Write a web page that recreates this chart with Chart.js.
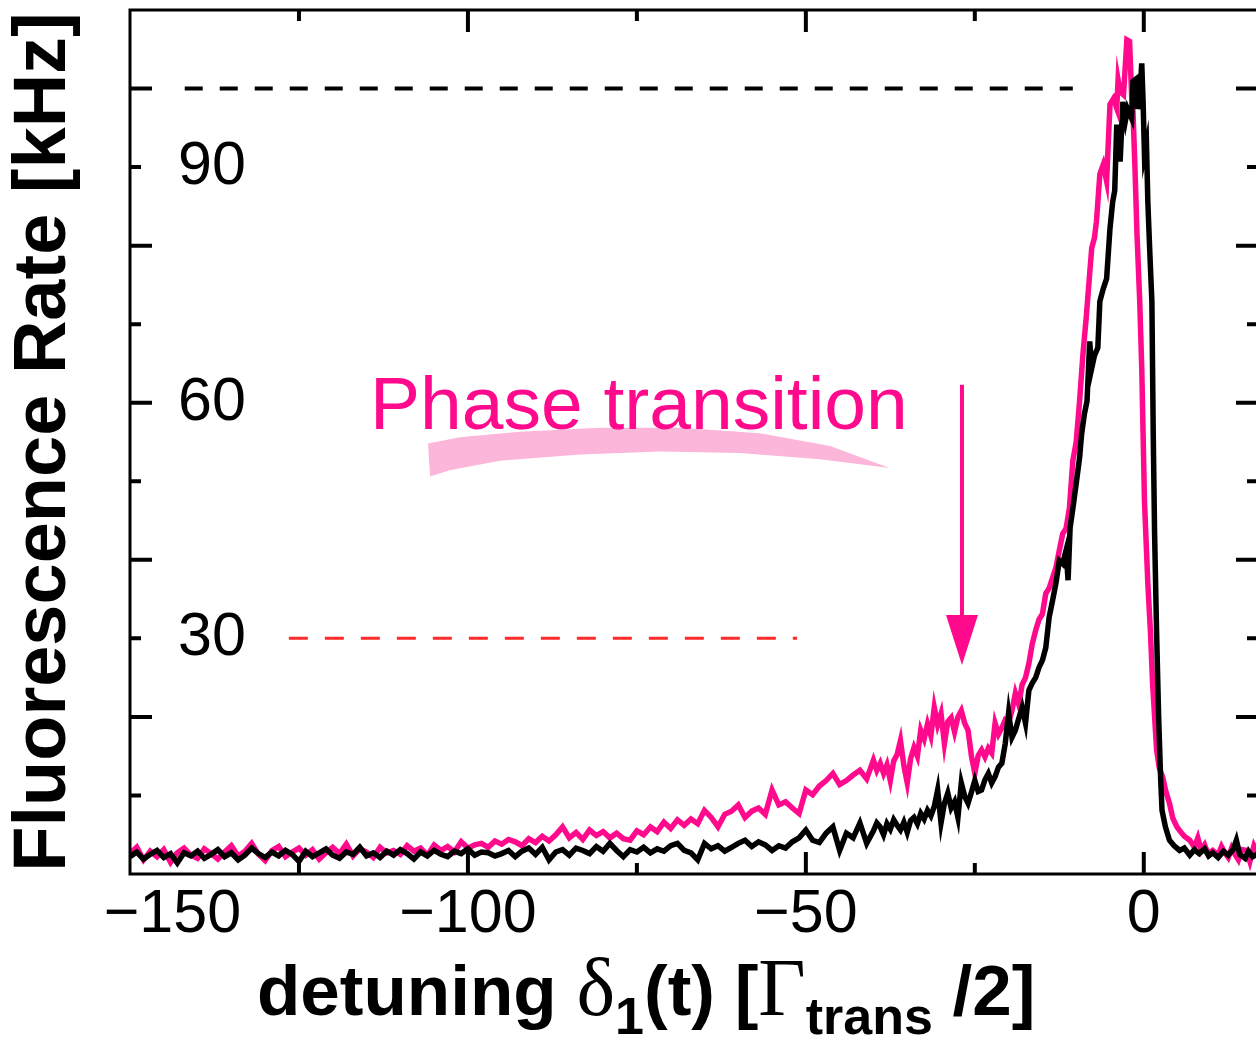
<!DOCTYPE html>
<html>
<head>
<meta charset="utf-8">
<title>Fluorescence rate vs detuning</title>
<script src="https://cdn.jsdelivr.net/npm/chart.js@4.4.1/dist/chart.umd.min.js"></script>
<style>
  html, body { margin: 0; padding: 0; background: #fff; overflow: hidden; }
  #wrap { position: absolute; left: 0; top: 0; width: 1262px; height: 1041px; }
  #xTitle {
    position: absolute; left: 257px; top: 948px;
    font: bold 71px 'Liberation Sans', Arial, sans-serif;
    line-height: 80px; white-space: nowrap; color: #000;
  }
  #xTitle .gr { font-family: 'Liberation Serif', 'DejaVu Serif', serif; font-weight: normal; font-size: 82px; }
  #xTitle .sb { font-size: 52px; position: relative; top: 19px; }
</style>
</head>
<body>
<div id="wrap"><canvas id="chart"></canvas></div>
<div id="xTitle">detuning <span class="gr">δ</span><span class="sb">1</span>(t) [<span class="gr">Γ</span><span class="sb">trans</span> /2]</div>
<script>
// data: [detuning, rate in kHz]
const pinkTrace = [
  [-150,2.6],[-149,3.4],[-148,1.8],[-147,2.9],[-146,2.2],[-145,3.1],[-144,1.5],[-143,2.7],[-142,3.3],[-141,2.4],
  [-140,2.0],[-139,3.2],[-138,2.6],[-137,1.9],[-136,2.8],[-135,3.6],[-134,2.3],[-133,2.9],[-132,3.9],[-131,2.5],
  [-130,1.7],[-129,3.0],[-128,3.5],[-127,2.2],[-126,2.8],[-125,3.3],[-124,2.4],[-123,3.1],[-122,1.9],[-121,2.7],
  [-120,3.4],[-119,2.6],[-118,3.8],[-117,2.3],[-116,3.2],[-115,2.8],[-114,2.1],[-113,3.4],[-112,2.7],[-111,3.0],
  [-110,2.5],[-109,3.6],[-108,2.9],[-107,3.3],[-106,2.4],[-105,3.7],[-104,3.0],[-103,3.5],[-102,2.8],[-101,4.1],
  [-100,3.3],[-99,3.7],[-98,3.9],[-97,3.4],[-96,4.2],[-95,3.8],[-94,4.4],[-93,4.1],[-92,3.6],[-91,4.5],
  [-90,4.0],[-89,4.8],[-88,4.2],[-87,5.0],[-86,6.0],[-85,4.6],[-84,5.3],[-83,4.4],[-82,5.6],[-81,4.9],
  [-80,5.4],[-79,4.6],[-78,5.2],[-77,4.5],[-76,4.3],[-75,5.5],[-74,5.0],[-73,6.0],[-72,5.4],[-71,6.6],
  [-70,5.8],[-69,6.9],[-68,6.2],[-67,7.0],[-66,6.4],[-65,8.1],[-64,7.2],[-63,6.0],[-62,7.6],[-61,8.0],
  [-60,8.8],[-59,7.2],[-58,8.0],[-57,8.4],[-56,7.6],[-55,10.7],[-54,8.8],[-53,9.2],[-52,8.4],[-51,7.7],
  [-50,10.7],[-49,10.1],[-48,11.2],[-47,11.9],[-46,12.8],[-45,11.4],[-44,11.9],[-43,12.6],[-42,13.2],[-41,12.1],
  [-40,14.5],[-39.5,13.2],[-39,14.1],[-38.5,12.8],[-38,13.9],[-37.5,11.9],[-37,14.4],[-36.5,15.2],[-36,17.0],[-35.5,13.8],
  [-35,11.6],[-34.5,14.7],[-34,16.1],[-33.5,15.0],[-33,18.3],[-32.5,17.2],[-32,19.1],[-31.5,17.6],[-31,21.2],[-30.5,19.0],
  [-30,20.4],[-29.5,16.6],[-29,19.4],[-28.5,19.9],[-28,18.1],[-27.5,20.0],[-27,20.8],[-26.5,19.2],[-26,18.3],[-25.5,15.0],
  [-25,12.8],[-24.5,15.1],[-24,15.8],[-23.5,14.9],[-23,16.0],[-22.5,15.4],[-22,19.2],[-21.5,17.8],[-21,18.6],[-20.5,19.6],
  [-20,19.3],[-19.5,20.8],[-19,23.0],[-18.5,21.6],[-18,24.1],[-17.5,25.0],[-17,26.8],[-16.5,29.3],[-16,31.0],[-15.5,32.4],
  [-15,33.1],[-14.5,35.7],[-14,36.4],[-13.5,37.7],[-13,39.0],[-12.5,41.2],[-12,43.3],[-11.5,44.0],[-11,46.6],[-10.5,52.6],
  [-10,55.0],[-9.5,60.2],[-9,66.2],[-8.5,71.0],[-8,76.5],[-7.7,79.7],[-7.3,81.0],[-7,83.1],[-6.5,89.1],[-6,90.3],
  [-5.5,88.2],[-5,98.0],[-4.5,98.7],[-4,97.5],[-3.8,101.1],[-3.5,99.6],[-3,99.2],[-2.5,106.2],[-2.1,106.0],[-1.8,99.2],
  [-1.6,97.1],[-1.3,89.8],[-1,81.4],[-0.6,72.9],[-0.3,64.4],[0.1,47.5],[0.6,37.0],[1.0,30.6],[1.3,24.3],[1.9,15.8],
  [2.3,13.5],[2.8,12.3],[3.3,10.4],[3.8,9.0],[4.3,7.1],[4.9,6.0],[5.5,5.3],[6.0,4.8],[6.8,4.3],[7.5,3.4],
  [8.0,4.6],[8.5,3.0],[9,3.7],[9.5,2.6],[10.2,3.0],[11,2.4],[11.5,3.5],[12,2.7],[12.5,2.1],[13,3.3],
  [13.5,2.5],[14,1.8],[14.5,3.1],[15.2,3.0],[15.7,1.6],[16.3,3.6],[17,2.4]
];

const blackTrace = [
  [-150,2.2],[-149,2.8],[-148,1.9],[-147,2.5],[-146,3.0],[-145,2.1],[-144,2.6],[-143,1.4],[-142,2.7],[-141,2.3],
  [-140,2.9],[-139,2.0],[-138,2.5],[-137,3.1],[-136,2.2],[-135,2.7],[-134,1.8],[-133,2.4],[-132,3.3],[-131,2.6],
  [-130,2.1],[-129,2.8],[-128,2.3],[-127,3.0],[-126,2.5],[-125,1.6],[-124,2.9],[-123,2.2],[-122,2.7],[-121,3.2],
  [-120,2.4],[-119,2.0],[-118,2.8],[-117,2.5],[-116,3.4],[-115,2.3],[-114,2.7],[-113,2.1],[-112,2.9],[-111,2.4],
  [-110,3.1],[-109,2.6],[-108,1.9],[-107,2.8],[-106,2.3],[-105,3.0],[-104,2.5],[-103,2.2],[-102,2.9],[-101,2.6],
  [-100,3.2],[-99,2.4],[-98,2.8],[-97,2.7],[-96,2.3],[-95,2.6],[-94,3.0],[-93,2.2],[-92,2.9],[-91,3.3],
  [-90,2.5],[-89,3.4],[-88,1.8],[-87,2.8],[-86,3.1],[-85,2.4],[-84,3.3],[-83,3.0],[-82,2.6],[-81,3.5],
  [-80,2.9],[-79,3.9],[-78,3.0],[-77,2.2],[-76,3.1],[-75,2.8],[-74,3.4],[-73,2.7],[-72,3.2],[-71,2.9],
  [-70,3.6],[-69,3.9],[-68,3.0],[-67,2.7],[-66,1.8],[-65,3.9],[-64,3.2],[-63,3.6],[-62,2.9],[-61,3.4],
  [-60,3.9],[-59,4.3],[-58,3.5],[-57,4.1],[-56,3.7],[-55,3.0],[-54,3.6],[-53,3.3],[-52,4.1],[-51,4.6],
  [-50,5.6],[-49,4.3],[-48,4.0],[-47,5.2],[-46,6.0],[-45,3.0],[-44,5.2],[-43,4.6],[-42,6.5],[-41,3.9],
  [-40,5.5],[-39.5,6.5],[-39,6.0],[-38.5,5.0],[-38,6.4],[-37.5,5.7],[-37,6.9],[-36.5,6.2],[-36,5.6],[-35.5,6.6],
  [-35,5.3],[-34.5,6.8],[-34,7.2],[-33.5,6.4],[-33,7.7],[-32.5,7.0],[-32,8.1],[-31.5,7.4],[-31,8.6],[-30.5,10.7],
  [-30,6.5],[-29.5,9.0],[-29,10.3],[-28.5,8.4],[-28,9.2],[-27.5,7.2],[-27,11.6],[-26.5,9.9],[-26,9.0],[-25.5,10.4],
  [-25,11.9],[-24.5,10.5],[-24,10.7],[-23.5,12.0],[-23,12.8],[-22.5,11.6],[-22,12.4],[-21.5,13.6],[-21,14.1],[-20.5,16.6],
  [-20,20.5],[-19.5,17.4],[-19,18.3],[-18.5,19.8],[-18,21.2],[-17.5,19.2],[-17,23.4],[-16.5,24.3],[-16,25.0],[-15.5,26.3],
  [-15,27.2],[-14.5,28.8],[-14,32.7],[-13.5,34.8],[-13,37.0],[-12.5,39.9],[-12,39.5],[-11.5,41.2],[-11.2,37.4],[-10.9,44.1],
  [-10.5,46.5],[-10,49.7],[-9.5,53.0],[-9.2,56.0],[-8.8,58.5],[-8.4,60.2],[-8,67.8],[-7.7,64.4],[-7.3,66.0],[-6.8,67.0],
  [-6.5,72.9],[-6,74.5],[-5.5,75.8],[-5,82.2],[-4.6,85.6],[-4.3,87.0],[-4,95.4],[-3.5,90.7],[-3.1,98.3],[-2.7,96.0],
  [-2.4,97.4],[-1.8,96.2],[-1.6,100.9],[-1,101.3],[-0.9,97.4],[-0.6,99.0],[-0.3,103.2],[-0.1,98.3],[0.1,91.6],[0.4,92.9],
  [0.6,85.6],[0.9,79.0],[1.2,72.9],[1.4,56.0],[1.6,43.3],[1.9,30.6],[2.2,20.0],[2.5,12.0],[2.7,8.1],[3.2,6.0],
  [3.8,4.3],[4.5,3.6],[5.3,3.0],[6,3.3],[6.8,2.4],[7.5,3.1],[8.2,2.6],[9,3.2],[9.6,2.3],[10.2,2.7],
  [11,2.1],[11.8,2.9],[12.5,2.4],[13.2,3.1],[13.7,4.3],[14.2,2.5],[15,2.0],[15.5,2.9],[16.1,2.2],[17,2.6]
];

// dashed reference levels
const upperRefX = [-141.9, -10.5];
const upperRefY = [100, 100];
const lowerRefX = [-126.5, -51.3];
const lowerRefY = [30, 30];

// tick labels
const xTickLabels = [-150, -100, -50, 0];
const yTickLabels = [30, 60, 90];

// annotation: arrow (x, from, to) and the brush stroke under the label
const arrowX = -26.9, arrowFrom = 62.3, arrowTo = 26.6;
const labelAt = [-114.5, 56.6];
const swooshOutline = [
  [-105.9,54.8],[-101.2,55.6],[-92.3,56.3],[-80.5,56.8],[-68.6,56.8],[-56.8,56.1],[-46.4,54.5],[-37.6,51.7],
  [-47.9,52.8],[-59.8,53.6],[-71.6,53.8],[-83.4,53.4],[-95.3,52.6],[-102.7,51.4],[-105.6,50.6]
];

const PINK = '#ff0a8c';
const FONT = "'Liberation Sans', Arial, sans-serif";
const toXY = pts => pts.map(([x, y]) => ({ x, y }));
const pairUp = (xs, ys) => xs.map((x, i) => ({ x, y: ys[i] }));

const minus = v => (v < 0 ? '\u2212' + Math.abs(v) : String(v));

// inward ticks on all four sides, frame, arrow, label
const framePlugin = {
  id: 'frame',
  afterDatasetsDraw(chart) {
    const { ctx, chartArea: a, scales: { x, y } } = chart;
    ctx.save();

    // brush stroke + label
    ctx.fillStyle = '#fbb6da';
    ctx.beginPath();
    swooshOutline.forEach(([vx, vy], i) => {
      const px = x.getPixelForValue(vx), py = y.getPixelForValue(vy);
      if (i === 0) ctx.moveTo(px, py); else ctx.lineTo(px, py);
    });
    ctx.closePath();
    ctx.fill();

    ctx.fillStyle = PINK;
    ctx.font = '75px ' + FONT;
    ctx.textBaseline = 'alphabetic';
    ctx.fillText('Phase transition', x.getPixelForValue(labelAt[0]), y.getPixelForValue(labelAt[1]));

    // arrow
    const ax = x.getPixelForValue(arrowX);
    const y0 = y.getPixelForValue(arrowFrom), y1 = y.getPixelForValue(arrowTo);
    ctx.strokeStyle = PINK;
    ctx.lineWidth = 4;
    ctx.beginPath();
    ctx.moveTo(ax, y0);
    ctx.lineTo(ax, y1 - 30);
    ctx.stroke();
    ctx.beginPath();
    ctx.moveTo(ax - 16, y1 - 50);
    ctx.lineTo(ax + 16, y1 - 50);
    ctx.lineTo(ax, y1);
    ctx.closePath();
    ctx.fill();

    // frame
    ctx.strokeStyle = '#000';
    ctx.lineWidth = 3;
    ctx.strokeRect(a.left, a.top, a.right - a.left, a.bottom - a.top);

    // ticks pointing inward
    ctx.lineWidth = 4;
    ctx.beginPath();
    x.ticks.forEach(t => {
      if (t.value <= x.min || t.value >= x.max) return;
      const px = x.getPixelForValue(t.value);
      const len = t.value % 50 === 0 ? 22 : 11;
      ctx.moveTo(px, a.bottom); ctx.lineTo(px, a.bottom - len);
      ctx.moveTo(px, a.top); ctx.lineTo(px, a.top + len);
    });
    y.ticks.forEach(t => {
      if (t.value <= y.min || t.value >= y.max) return;
      const py = y.getPixelForValue(t.value);
      const len = t.value % 20 === 0 ? 22 : 11;
      ctx.moveTo(a.left, py); ctx.lineTo(a.left + len, py);
      ctx.moveTo(a.right, py); ctx.lineTo(a.right - len, py);
    });
    ctx.stroke();
    ctx.restore();
  }
};

const ctx = document.getElementById('chart').getContext('2d');
const chart = new Chart(ctx, {
  type: 'line',
  data: {
    datasets: [
      {
        label: 'black',
        data: toXY(blackTrace),
        borderColor: '#000',
        borderWidth: 5.5,
        pointRadius: 0,
        tension: 0
      },
      {
        label: 'pink',
        data: toXY(pinkTrace),
        borderColor: PINK,
        borderWidth: 5.5,
        pointRadius: 0,
        tension: 0
      },
      {
        label: 'upper level',
        data: pairUp(upperRefX, upperRefY),
        borderColor: '#000',
        borderWidth: 4,
        borderDash: [18, 17],
        pointRadius: 0
      },
      {
        label: 'lower level',
        data: pairUp(lowerRefX, lowerRefY),
        borderColor: '#ff2a2a',
        borderWidth: 3,
        borderDash: [19, 17],
        pointRadius: 0
      }
    ]
  },
  options: {
    responsive: true,
    maintainAspectRatio: false,
    animation: false,
    layout: { padding: { top: 10, right: 4, left: 0, bottom: 0 } },
    plugins: {
      legend: { display: false },
      tooltip: { enabled: false }
    },
    scales: {
      x: {
        type: 'linear',
        min: -150,
        max: 16.9,
        afterFit: s => { s.height = 167; },
        grid: { display: false, drawTicks: false },
        border: { display: false },
        ticks: {
          stepSize: 25,
          includeBounds: false,
          autoSkip: false,
          maxRotation: 0,
          padding: 5,
          color: '#000',
          font: { family: FONT, size: 61 },
          callback: v => {
            if (!xTickLabels.includes(v)) return '';
            // the leftmost label sits a bit right of its tick in the original
            return v === xTickLabels[0] ? '\u2007\u2007 ' + minus(v) : minus(v);
          }
        }
      },
      y: {
        min: 0,
        max: 110,
        afterFit: s => {
          s.width = 130;
          // labels sit inside the plot, so they need no room above/below
          s.paddingTop = 0;
          s.paddingBottom = 0;
        },
        grid: { display: false, drawTicks: false },
        border: { display: false },
        ticks: {
          stepSize: 10,
          includeBounds: false,
          mirror: true,
          padding: 48,
          color: '#000',
          font: { family: FONT, size: 61, lineHeight: 0.2 },
          callback: v => (yTickLabels.includes(v) ? String(v) : '')
        },
        title: {
          display: true,
          text: 'Fluorescence Rate [kHz]',
          color: '#000',
          padding: 0,
          font: { family: FONT, size: 74, weight: 'bold' }
        }
      }
    }
  },
  plugins: [framePlugin]
});
</script>
</body>
</html>
